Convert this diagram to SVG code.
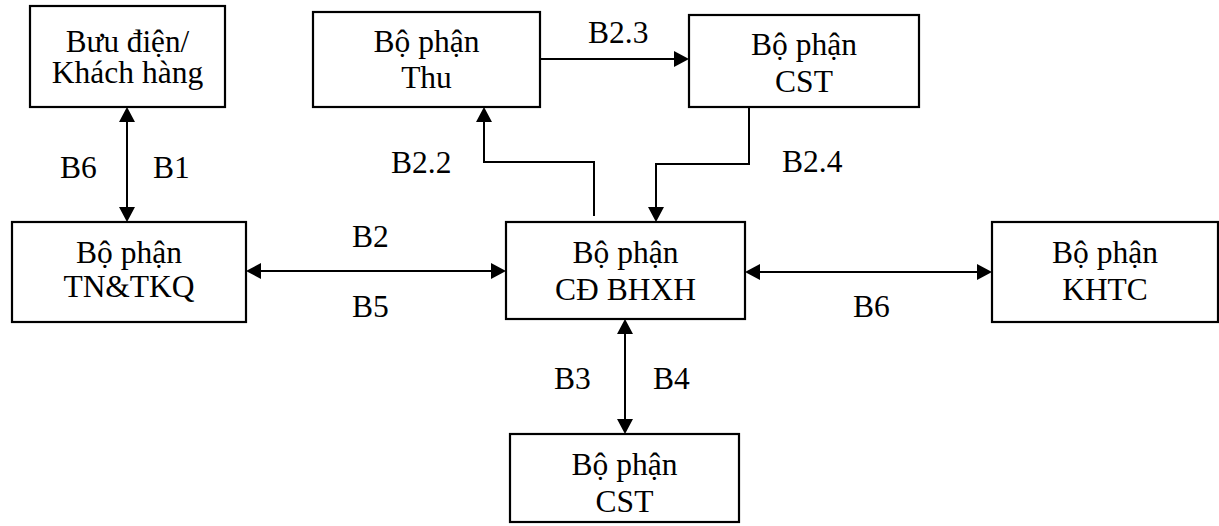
<svg xmlns="http://www.w3.org/2000/svg" width="1219" height="526" viewBox="0 0 1219 526" font-family="'Liberation Serif', 'Times New Roman', Times, serif" font-size="31.5">
  <rect width="1219" height="526" fill="#fff"/>
  <g id="connectors">
    <g fill="none" stroke="#000" stroke-width="2">
      <line x1="127" y1="120" x2="127" y2="209"/>
      <line x1="259" y1="271" x2="493" y2="271"/>
      <line x1="758" y1="272" x2="979" y2="272"/>
      <line x1="625" y1="332" x2="625" y2="421"/>
      <line x1="540" y1="59" x2="676" y2="59"/>
      <polyline points="594,216 594,162 484,162 484,120"/>
      <polyline points="749,107 749,164 656,164 656,209"/>
    </g>
    <g fill="#000">
      <polygon points="127,107 119,122 135,122"/>
      <polygon points="127,222 119,207 135,207"/>
      <polygon points="246,271 261,263 261,279"/>
      <polygon points="506,271 491,263 491,279"/>
      <polygon points="745,272 760,264 760,280"/>
      <polygon points="992,272 977,264 977,280"/>
      <polygon points="625,319 617,334 633,334"/>
      <polygon points="625,434 617,419 633,419"/>
      <polygon points="689,59 674,51 674,67"/>
      <polygon points="484,107 476,122 492,122"/>
      <polygon points="656,222 648,207 664,207"/>
    </g>
    <g fill="#000" lengthAdjust="spacingAndGlyphs">
      <text x="60" y="178" textLength="36.8" lengthAdjust="spacingAndGlyphs">B6</text>
      <text x="153" y="178" textLength="36.8" lengthAdjust="spacingAndGlyphs">B1</text>
      <text x="352" y="247" textLength="36.8" lengthAdjust="spacingAndGlyphs">B2</text>
      <text x="352" y="317" textLength="36.8" lengthAdjust="spacingAndGlyphs">B5</text>
      <text x="588" y="43" textLength="60.4" lengthAdjust="spacingAndGlyphs">B2.3</text>
      <text x="391" y="173" textLength="60.4" lengthAdjust="spacingAndGlyphs">B2.2</text>
      <text x="782" y="172" textLength="60.4" lengthAdjust="spacingAndGlyphs">B2.4</text>
      <text x="853" y="317" textLength="36.8" lengthAdjust="spacingAndGlyphs">B6</text>
      <text x="554" y="389" textLength="36.8" lengthAdjust="spacingAndGlyphs">B3</text>
      <text x="653" y="389" textLength="36.8" lengthAdjust="spacingAndGlyphs">B4</text>
    </g>
  </g>
  <g id="buu-dien">
    <rect x="30" y="6" width="195" height="101" fill="#fff" stroke="#000" stroke-width="2.2"/>
    <text x="127.5" y="52" text-anchor="middle" textLength="123.4" lengthAdjust="spacingAndGlyphs">Bưu điện/</text>
    <text x="127.5" y="83" text-anchor="middle" textLength="151.3" lengthAdjust="spacingAndGlyphs">Khách hàng</text>
  </g>
  <g id="tn-tkq">
    <rect x="12" y="222" width="234" height="100" fill="#fff" stroke="#000" stroke-width="2.2"/>
    <text x="129" y="263" text-anchor="middle" textLength="105.9" lengthAdjust="spacingAndGlyphs">Bộ phận</text>
    <text x="129" y="297" text-anchor="middle" textLength="131.2" lengthAdjust="spacingAndGlyphs">TN&amp;TKQ</text>
  </g>
  <g id="thu">
    <rect x="313" y="12" width="227" height="95" fill="#fff" stroke="#000" stroke-width="2.2"/>
    <text x="426.5" y="52" text-anchor="middle" textLength="105.9" lengthAdjust="spacingAndGlyphs">Bộ phận</text>
    <text x="426.5" y="88" text-anchor="middle" textLength="50.7" lengthAdjust="spacingAndGlyphs">Thu</text>
  </g>
  <g id="cst-top">
    <rect x="689" y="15" width="230" height="92" fill="#fff" stroke="#000" stroke-width="2.2"/>
    <text x="804" y="55" text-anchor="middle" textLength="105.9" lengthAdjust="spacingAndGlyphs">Bộ phận</text>
    <text x="804" y="92" text-anchor="middle" textLength="57.8" lengthAdjust="spacingAndGlyphs">CST</text>
  </g>
  <g id="cd-bhxh">
    <rect x="506" y="222" width="239" height="97" fill="#fff" stroke="#000" stroke-width="2.2"/>
    <text x="625.5" y="263" text-anchor="middle" textLength="105.9" lengthAdjust="spacingAndGlyphs">Bộ phận</text>
    <text x="625.5" y="300" text-anchor="middle" textLength="140.9" lengthAdjust="spacingAndGlyphs">CĐ BHXH</text>
  </g>
  <g id="khtc">
    <rect x="992" y="222" width="226" height="100" fill="#fff" stroke="#000" stroke-width="2.2"/>
    <text x="1105" y="263" text-anchor="middle" textLength="105.9" lengthAdjust="spacingAndGlyphs">Bộ phận</text>
    <text x="1105" y="300" text-anchor="middle" textLength="85.7" lengthAdjust="spacingAndGlyphs">KHTC</text>
  </g>
  <g id="cst-bottom">
    <rect x="510" y="434" width="229" height="88" fill="#fff" stroke="#000" stroke-width="2.2"/>
    <text x="624.5" y="475" text-anchor="middle" textLength="105.9" lengthAdjust="spacingAndGlyphs">Bộ phận</text>
    <text x="624.5" y="512" text-anchor="middle" textLength="57.8" lengthAdjust="spacingAndGlyphs">CST</text>
  </g>
</svg>
